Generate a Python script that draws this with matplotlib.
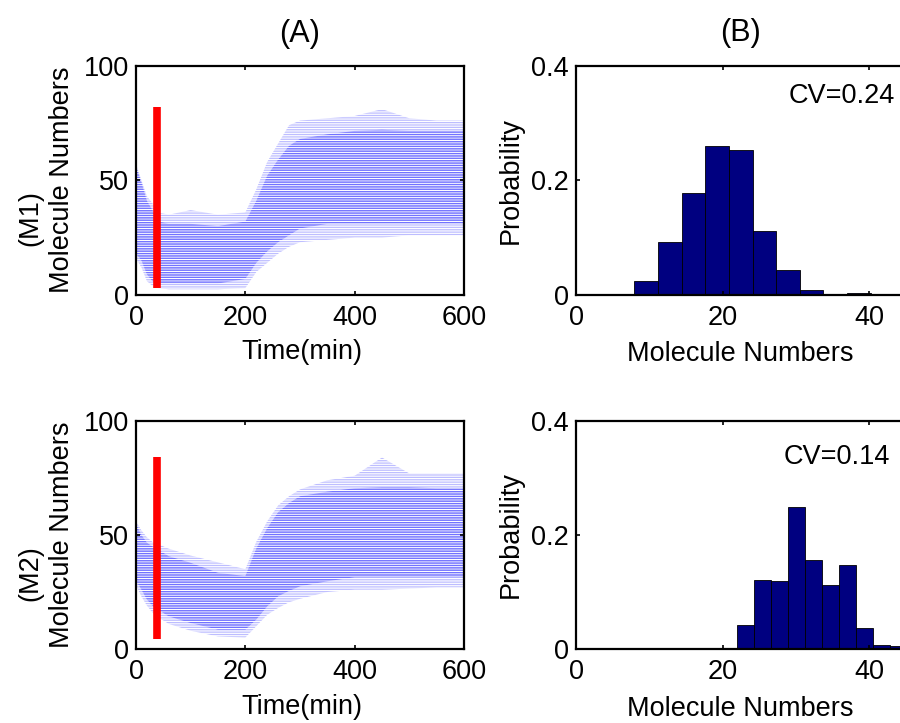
import matplotlib
matplotlib.use("Agg")
import matplotlib.pyplot as plt
import numpy as np

plt.rcParams['font.family'] = ['Liberation Sans', 'DejaVu Sans']
plt.rcParams['hatch.linewidth'] = 0.9

# ---------------- data ----------------
t_env = [0, 10, 20, 30, 40, 60, 100, 150, 200, 220, 240, 260, 280, 300, 350, 400, 450, 500, 550, 600]

# M1 trajectory envelope (dense core and sparse outer band)
m1_upper = [56, 49, 41, 37, 32, 31, 31, 30, 32, 41, 52, 59, 65, 68, 70, 71.5, 72, 71.5, 71.5, 71.5]
m1_lower = [18, 15, 9, 6, 5, 5, 5, 5, 7, 14, 19, 23, 26, 29, 31, 31, 31, 31, 31, 31]
m1_upper_out = [57, 50, 43, 40, 36, 35, 37, 35, 36, 46, 58, 66, 74, 76, 77, 78, 81, 77, 76, 76]
m1_lower_out = [16, 12, 6, 4, 3, 2.5, 2.5, 2.5, 3, 10, 14, 18, 21, 23, 24, 25, 25, 26, 26, 26]

# M2 trajectory envelope
m2_upper = [54.6, 50, 46.6, 45, 43.6, 40.7, 37.8, 33.4, 32, 44, 53, 60, 64, 67, 69, 70.5, 71, 71, 70.5, 70.5]
m2_lower = [30, 26, 21.7, 19, 17.3, 14.3, 11.4, 8.5, 8.5, 12.9, 18.7, 23.1, 25.5, 27.5, 29.7, 31.5, 31.5, 31.5, 31.5, 31.5]
m2_upper_out = [56, 52, 49, 47, 46, 44, 41, 38, 35, 47, 56, 63, 67, 70, 74, 76, 84, 77, 77, 77]
m2_lower_out = [28, 23, 19, 16, 14, 11, 8, 5.5, 5, 10, 15, 18, 20.5, 22, 25, 26, 26, 26.5, 27, 27]

# red marker (time, low, high)
m1_mark = (38, 3, 82)
m2_mark = (38, 4.5, 84.3)

# histograms
m1_bin_left = 7.98
m1_bin_width = 3.22
m1_prob = [0.025, 0.092, 0.178, 0.260, 0.253, 0.112, 0.044, 0.008, 0.0, 0.004]
m1_cv = "CV=0.24"

m2_bin_left = 22.0
m2_bin_width = 2.32
m2_prob = [0.042, 0.121, 0.119, 0.249, 0.156, 0.113, 0.147, 0.037, 0.007, 0.005]
m2_cv = "CV=0.14"

# ---------------- figure ----------------
W, H = 900, 723
fig = plt.figure(figsize=(W / 100, H / 100), dpi=100)

def frac_box(x0, x1, ytop, ybot):
    return [x0 / W, 1 - ybot / H, (x1 - x0) / W, (ybot - ytop) / H]

FS = 19.5

def ftext(x, y, s, size=FS, **kw):
    fig.text(x / W, 1 - y / H, s, fontsize=size, ha='center', va='center', **kw)

def style(ax):
    for s in ax.spines.values():
        s.set_linewidth(1.6)
    ax.tick_params(direction='in', top=True, right=True, length=3, width=1.2,
                   labelsize=FS)
    ax.tick_params(axis='x', pad=7)
    ax.tick_params(axis='y', pad=5)

def traj_panel(ax, up, lo, up_o, lo_o, mark):
    ax.fill_between(t_env, lo_o, up_o, facecolor='none', edgecolor='#bdbdff',
                    hatch='-------', linewidth=0)
    ax.fill_between(t_env, lo, up, facecolor='none', edgecolor='#7272ff',
                    hatch='-------', linewidth=0)
    ax.vlines(mark[0], mark[1], mark[2], color='#ff0000', linewidth=5.5)
    ax.set_xlim(0, 600)
    ax.set_ylim(0, 100)
    ax.set_xticks([0, 200, 400, 600])
    ax.set_yticks([0, 50, 100])
    style(ax)

def hist_panel(ax, left, width, probs, cv, cvx, cvy):
    edges = [left + i * width for i in range(len(probs))]
    ax.bar(edges, probs, width=width, align='edge', color='#000080',
           edgecolor='black', linewidth=0.6)
    ax.set_xlim(0, 50)
    ax.set_ylim(0, 0.4)
    ax.set_xticks([0, 20, 40])
    ax.set_yticks([0, 0.2, 0.4])
    ax.set_yticklabels(['0', '0.2', '0.4'])
    ax.text(cvx, cvy, cv, fontsize=FS, ha='left', va='center')
    style(ax)

ax1 = fig.add_axes(frac_box(136, 464, 65.5, 295))
traj_panel(ax1, m1_upper, m1_lower, m1_upper_out, m1_lower_out, m1_mark)

ax3 = fig.add_axes(frac_box(136, 464, 421, 649))
traj_panel(ax3, m2_upper, m2_lower, m2_upper_out, m2_lower_out, m2_mark)

ax2 = fig.add_axes(frac_box(576, 576 + 50 * 7.33, 65.5, 295))
hist_panel(ax2, m1_bin_left, m1_bin_width, m1_prob, m1_cv, 29.0, 0.347)

ax4 = fig.add_axes(frac_box(576, 576 + 50 * 7.33, 421, 649))
hist_panel(ax4, m2_bin_left, m2_bin_width, m2_prob, m2_cv, 28.3, 0.337)

# axis labels, row / column labels
ftext(302, 352, 'Time(min)')
ftext(302, 707, 'Time(min)')
ftext(740, 354, 'Molecule Numbers')
ftext(740, 709, 'Molecule Numbers')
ftext(511, 180, 'Probability', rotation=90)
ftext(511, 535, 'Probability', rotation=90)
ftext(300, 34, '(A)', size=22)
ftext(740, 33, '(B)', size=22)
ftext(62, 180, 'Molecule Numbers', rotation=90)
ftext(30, 218, '(M1)', rotation=90)
ftext(62, 535, 'Molecule Numbers', rotation=90)
ftext(30, 573, '(M2)', rotation=90)

fig.savefig('out.png', dpi=100)
